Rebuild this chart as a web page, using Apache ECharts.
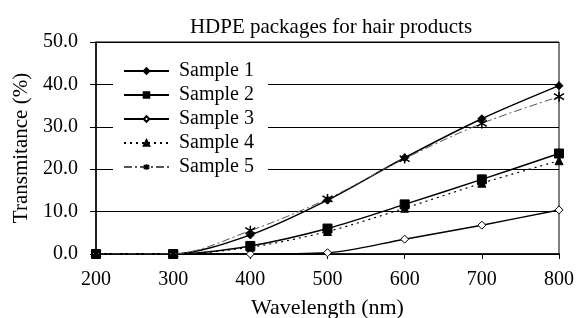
<!DOCTYPE html>
<html>
<head>
<meta charset="utf-8">
<script src="https://cdn.jsdelivr.net/npm/echarts@6/dist/echarts.min.js"></script>
<style>
  html, body { margin: 0; padding: 0; background: #fff; }
  #chart { width: 579px; height: 318px; }
</style>
</head>
<body>
<div id="chart"></div>
<script>
  // wavelength (nm)
  const wavelengths = [200, 300, 400, 500, 600, 700, 800];
  // transmitance (%) per sample
  const sample1 = [0, 0, 4.5, 12.7, 22.7, 31.9, 39.7];
  const sample2 = [0, 0, 1.9, 6.0, 11.7, 17.6, 23.7];
  const sample3 = [0, 0, 0, 0.3, 3.5, 6.8, 10.4];
  const sample4 = [0, 0, 1.6, 5.3, 10.8, 16.7, 22.0];
  const sample5 = [0, 0, 5.5, 13.0, 22.5, 30.8, 37.1];
  const sampleNames = ['Sample 1', 'Sample 2', 'Sample 3', 'Sample 4', 'Sample 5'];

  const font = 'Liberation Serif';
  const pairs = (vals) => wavelengths.map((w, i) => [w, vals[i]]);
  const asterisk = 'path://M0,-5L0,5M-4.5,-3L4.5,3M-4.5,3L4.5,-3';

  const mk = (name, vals, opts) => Object.assign({
    name: name,
    type: 'line',
    smooth: 0.3,
    data: pairs(vals),
    symbolSize: 8,
    lineStyle: { color: '#000', width: 1.5 },
    itemStyle: { color: '#000', borderColor: '#000', borderWidth: 1 },
    z: 3
  }, opts);

  const chart = echarts.init(document.getElementById('chart'));
  const option = {
    animation: false,
    backgroundColor: '#fff',
    title: {
      text: 'HDPE packages for hair products',
      left: 326,
      textAlign: 'center',
      top: 12,
      textStyle: { fontFamily: font, fontSize: 21, fontWeight: 'normal', color: '#000' }
    },
    legend: {
      data: sampleNames,
      orient: 'vertical',
      left: 113,
      top: 56,
      itemGap: 4,
      itemWidth: 45,
      itemHeight: 7,
      backgroundColor: '#fff',
      padding: [5, 14, 5, 10],
      textStyle: { fontFamily: font, fontSize: 20, lineHeight: 20, color: '#000', padding: [0, 0, 0, 5] }
    },
    grid: {
      left: 96, right: 20, top: 42, bottom: 64,
      outerBoundsMode: 'none',
      show: true, borderColor: '#000', borderWidth: 1
    },
    xAxis: {
      type: 'value',
      min: 200,
      max: 800,
      interval: 100,
      name: 'Wavelength (nm)',
      nameLocation: 'middle',
      nameGap: 43,
      nameTextStyle: { fontFamily: font, fontSize: 22, color: '#000' },
      axisLine: { lineStyle: { color: '#000', width: 1.5 } },
      axisTick: { show: true, length: 5, lineStyle: { color: '#000' } },
      axisLabel: { fontFamily: font, fontSize: 20, color: '#000', margin: 16 },
      splitLine: { show: false }
    },
    yAxis: {
      type: 'value',
      min: 0,
      max: 50,
      interval: 10,
      name: 'Transmitance (%)',
      nameLocation: 'middle',
      nameGap: 64,
      nameTextStyle: { fontFamily: font, fontSize: 21, color: '#000' },
      axisLine: { show: true, lineStyle: { color: '#000', width: 1.5 } },
      axisTick: { show: true, length: 6, lineStyle: { color: '#000' } },
      axisLabel: { fontFamily: font, fontSize: 20, color: '#000', margin: 18, formatter: (v) => v.toFixed(1) },
      splitLine: { show: true, lineStyle: { color: '#000', width: 1 } }
    },
    series: [
      mk('Sample 1', sample1, { symbol: 'diamond', symbolSize: 8 }),
      mk('Sample 2', sample2, { symbol: 'rect', symbolSize: 9 }),
      mk('Sample 3', sample3, {
        symbol: 'diamond', symbolSize: 8,
        itemStyle: { color: '#fff', borderColor: '#000', borderWidth: 1 }
      }),
      mk('Sample 4', sample4, {
        symbol: 'triangle', symbolSize: 8,
        lineStyle: { color: '#000', width: 1.2, type: [2, 4] }
      }),
      mk('Sample 5', sample5, {
        symbol: asterisk, symbolSize: 10,
        lineStyle: { color: '#555', width: 1, type: [8, 3, 2, 3] },
        itemStyle: { color: '#000', borderColor: '#000', borderWidth: 1.5 }
      })
    ]
  };
  chart.setOption(option);
</script>
</body>
</html>
